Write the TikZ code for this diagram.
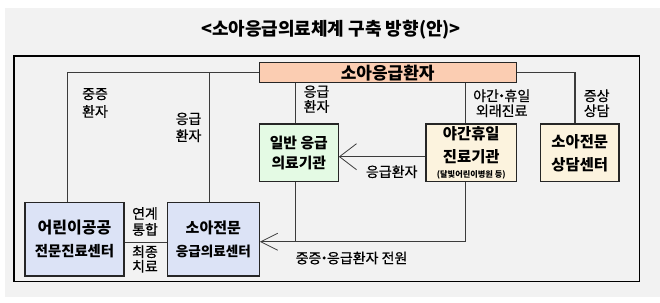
\documentclass[tikz,border=0pt]{standalone}
\usepackage{fontspec}
\setmainfont{Noto Sans CJK KR}
\newfontfamily\medfont{Noto Sans CJK KR}[FakeBold=0.6]
\usetikzlibrary{arrows.meta,calc}
\definecolor{bggray}{RGB}{242,242,242}
\definecolor{peach}{RGB}{251,205,178}
\definecolor{mint}{RGB}{228,250,228}
\definecolor{cream}{RGB}{252,243,222}
\definecolor{lav}{RGB}{220,227,246}
\definecolor{linegray}{RGB}{60,60,60}
\newcommand{\mdot}{\kern-0.3em・\kern-0.3em}
\tikzset{
  boxstyle/.style={draw=black!85, line width=1.1pt, inner sep=0pt, align=center, font=\fontsize{15.4}{23}\selectfont\bfseries},
  boxtext/.style={inner sep=0pt, align=center, font=\fontsize{15.4}{23}\selectfont\bfseries},
  conn/.style={draw=linegray, line width=1.1pt},
  lbl/.style={inner sep=0pt, align=center, font=\fontsize{14}{16}\selectfont\medfont},
  barb/.style={-{Straight Barb[length=17pt,width=#1,line width=0.8pt]}}
}
\begin{document}
\begin{tikzpicture}[x=1pt,y=-1pt]
\useasboundingbox (0,0) rectangle (660,302);
\fill[bggray] (4.7,8) rectangle (660,297);
\draw[black, line width=1.2pt] (14,56) rectangle (639.3,281.7);

\node[inner sep=0pt, font=\fontsize{18}{18}\selectfont\bfseries] (title) at (331,30) {<소아응급의료체계 구축 방향(안)>};

% boxes
\node[boxstyle, fill=peach, minimum width=256.7pt, minimum height=20pt, font=\fontsize{17}{17}\selectfont\bfseries] (pat) at (387.7,72.7) {소아응급환자};
\node[boxstyle, fill=mint, minimum width=79pt, minimum height=57.7pt, font=\fontsize{14.8}{20}\selectfont\bfseries] (gen) at (298.8,152.8) {일반 응급\\의료기관};
\node[boxstyle, fill=cream, minimum width=90.7pt, minimum height=57.7pt] (ngt) at (471.3,152.8) {};
\node[boxtext] (ngt1) at (471.3,134) {야간휴일};
\node[boxtext] (ngt2) at (471.3,157) {진료기관};
\node[boxtext, font=\fontsize{8.2}{9}\selectfont\bfseries] (ngt3) at (471.3,175) {(달빛어린이병원 등)};
\node[boxstyle, fill=cream, minimum width=78.3pt, minimum height=57.7pt] (cns) at (579.8,152.8) {소아전문\\상담센터};
\node[boxstyle, fill=lav, minimum width=99pt, minimum height=73.3pt] (pub) at (74.5,239.3) {{\fontsize{16}{16}\selectfont 어린이공공}\\{\fontsize{14.4}{16}\selectfont 전문진료센터}};
\node[boxstyle, fill=lav, minimum width=92pt, minimum height=73.3pt] (ped) at (213.3,239.3) {{\fontsize{15}{16}\selectfont 소아전문}\\{\fontsize{13.6}{16}\selectfont 응급의료센터}};

% coordinates
\coordinate (a1) at (67.7,72.7);
\coordinate (a2) at (209.3,72.7);
\coordinate (b1) at (295.5,0);
\coordinate (b2) at (465.5,0);
\coordinate (a3) at (575,72.7);
\coordinate (c1) at (0,156.7);
\coordinate (d1) at (0,241.7);
\coordinate (e1) at (0,242.3);

% connectors
\draw[conn] (pat.west |- a1) -- (a1) -- (a1 |- pub.north);
\draw[conn] (a2) -- (a2 |- ped.north);
\draw[conn] (b1 |- pat.south) -- (b1 |- gen.north);
\draw[conn] (b2 |- pat.south) -- (b2 |- ngt.north);
\draw[conn] (pat.east |- a3) -- (a3) -- (a3 |- cns.north);
\draw[conn, barb=26pt] (ngt.west |- c1) -- (gen.east |- c1);
\draw[conn] (b1 |- gen.south) -- (b1 |- d1);
\draw[conn, barb=17pt] (b2 |- ngt.south) -- (b2 |- d1) -- (ped.east |- d1);
\draw[conn] (pub.east |- e1) -- (ped.west |- e1);

% labels
\node[lbl, font=\fontsize{14}{17.7}\selectfont\medfont] (l1) at (95,103) {중증\\환자};
\node[lbl, font=\fontsize{14}{17}\selectfont\medfont] (l2) at (188.5,127.4) {응급\\환자};
\node[lbl, font=\fontsize{14}{15}\selectfont\medfont] (l3) at (316.5,99.2) {응급\\환자};
\node[lbl, font=\fontsize{14}{15}\selectfont\medfont] (l4) at (501.7,103.3) {야간\mdot 휴일\\외래진료};
\node[lbl, font=\fontsize{14}{15}\selectfont\medfont] (l5) at (596.7,103.3) {증상\\상담};
\node[lbl] (l6) at (391.7,171.7) {응급환자};
\node[lbl] (l7) at (145,221.5) {연계\\통합};
\node[lbl, font=\fontsize{14}{14.5}\selectfont\medfont] (l8) at (145,259) {최종\\치료};
\node[lbl] (l9) at (351.5,258) {중증\mdot 응급환자 전원};
\end{tikzpicture}
\end{document}
